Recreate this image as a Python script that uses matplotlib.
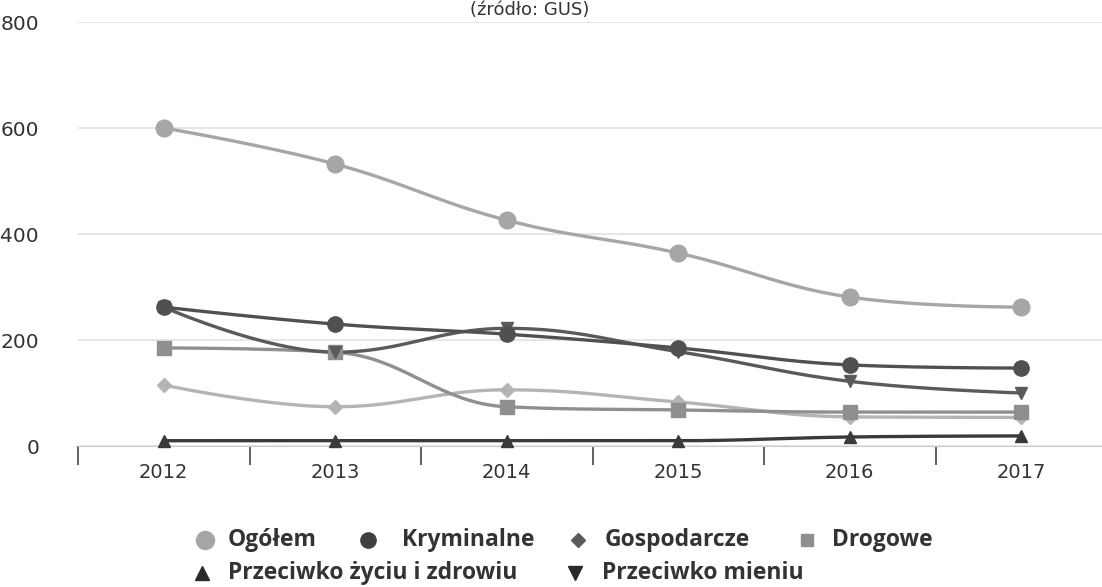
import numpy as np
import matplotlib
matplotlib.use("Agg")
import matplotlib.pyplot as plt
from matplotlib.lines import Line2D

years = ["2012", "2013", "2014", "2015", "2016", "2017"]
ogolem = [600, 532, 426, 364, 281, 262]
kryminalne = [262, 230, 211, 185, 153, 147]
gospodarcze = [115, 74, 106, 83, 55, 54]
drogowe = [185, 177, 74, 68, 64, 64]
zycie = [10, 10, 10, 10, 17, 19]
mienie = [262, 177, 222, 178, 122, 100]

yticks = [0, 200, 400, 600, 800]
names = ["Ogółem", "Kryminalne", "Gospodarcze", "Drogowe",
         "Przeciwko życiu i zdrowiu", "Przeciwko mieniu"]

W, H = 1102, 587
fig = plt.figure(figsize=(W / 100, H / 100), dpi=100)
ax = fig.add_axes([78 / W, (H - 446) / H, (1107 - 78) / W, (446 - 22) / H])


def spline(ys, smoothing=1.5, n=40):
    xs = np.arange(len(ys), dtype=float)
    ys = np.asarray(ys, dtype=float)
    N = len(ys)
    lc = [None] * N
    rc = [None] * N
    for i in range(1, N - 1):
        px, py = xs[i], ys[i]
        lx, ly = xs[i - 1], ys[i - 1]
        nx, ny = xs[i + 1], ys[i + 1]
        d = smoothing + 1
        lcx = (smoothing * px + lx) / d
        lcy = (smoothing * py + ly) / d
        rcx = (smoothing * px + nx) / d
        rcy = (smoothing * py + ny) / d
        corr = ((rcy - lcy) * (rcx - px)) / (rcx - lcx) + py - rcy
        lcy += corr
        rcy += corr
        if lcy > ly and lcy > py:
            lcy = max(ly, py); rcy = 2 * py - lcy
        elif lcy < ly and lcy < py:
            lcy = min(ly, py); rcy = 2 * py - lcy
        if rcy > ny and rcy > py:
            rcy = max(ny, py); lcy = 2 * py - rcy
        elif rcy < ny and rcy < py:
            rcy = min(ny, py); lcy = 2 * py - rcy
        lc[i] = (lcx, lcy)
        rc[i] = (rcx, rcy)
    outx, outy = [], []
    t = np.linspace(0, 1, n)
    for i in range(1, N):
        p0 = np.array([xs[i - 1], ys[i - 1]])
        p3 = np.array([xs[i], ys[i]])
        p1 = np.array(rc[i - 1]) if rc[i - 1] is not None else p0
        p2 = np.array(lc[i]) if lc[i] is not None else p3
        b = ((1 - t) ** 3)[:, None] * p0 + (3 * (1 - t) ** 2 * t)[:, None] * p1 \
            + (3 * (1 - t) * t ** 2)[:, None] * p2 + (t ** 3)[:, None] * p3
        outx.extend(b[:, 0]); outy.extend(b[:, 1])
    return np.array(outx), np.array(outy)


series = [
    (zycie, "#3a3a3a", "^", 9),
    (gospodarcze, "#b4b4b4", "D", 7),
    (drogowe, "#8f8f8f", "s", 10),
    (mienie, "#5a5a5a", "v", 9),
    (kryminalne, "#505050", "o", 11),
    (ogolem, "#a6a6a6", "o", 12),
]
for vals, col, mk, ms in series:
    sx, sy = spline(vals)
    ax.plot(sx, sy, color=col, lw=2.4, solid_capstyle="round", clip_on=False, zorder=3)
    ax.plot(range(len(vals)), vals, ls="none", marker=mk, ms=ms, color=col,
            mec=col, clip_on=False, zorder=4)

ax.set_xlim(-0.5, 5.5)
ax.set_ylim(0, 800)
ax.set_yticks(yticks)
ax.set_yticklabels([str(v) for v in yticks], fontsize=14.5, color="#333333")
ax.yaxis.grid(True, color="#e2e2e2", lw=1.2)
ax.set_axisbelow(True)
ax.tick_params(axis="y", length=0, pad=28)
ax.set_xticks(range(len(years)))
ax.set_xticklabels(years, fontsize=14, color="#333333")
ax.tick_params(axis="x", length=0, pad=12)
ax.set_xticks(np.arange(-0.5, 5.0, 1.0), minor=True)
ax.tick_params(axis="x", which="minor", length=14, width=1.3, color="#555555")
for s in ["top", "right", "left"]:
    ax.spines[s].set_visible(False)
ax.spines["bottom"].set_color("#cccccc")

fig.text(530 / W, 1 - 1 / H, "(źródło: GUS)", ha="center", va="top",
         fontsize=13, color="#333333")

# legend
leg_items = [
    (205, 540, "o", "#a6a6a6", 13, 228, names[0]),
    (368, 540, "o", "#404040", 11, 402, names[1]),
    (578, 540, "D", "#5a5a5a", 7, 605, names[2]),
    (807, 540, "s", "#8f8f8f", 9, 832, names[3]),
    (202, 573, "^", "#2a2a2a", 10, 228, names[4]),
    (575, 573, "v", "#2a2a2a", 10, 602, names[5]),
]
for mx, my, mk, col, ms, tx, label in leg_items:
    fig.add_artist(Line2D([mx / W], [1 - my / H], transform=fig.transFigure,
                          marker=mk, ms=ms, color=col, ls="none"))
    fig.text(tx / W, 1 - my / H, label, ha="left", va="center", fontsize=16.5,
             fontweight="bold", color="#333333", family="Open Sans")

fig.savefig("out.png", dpi=100)
